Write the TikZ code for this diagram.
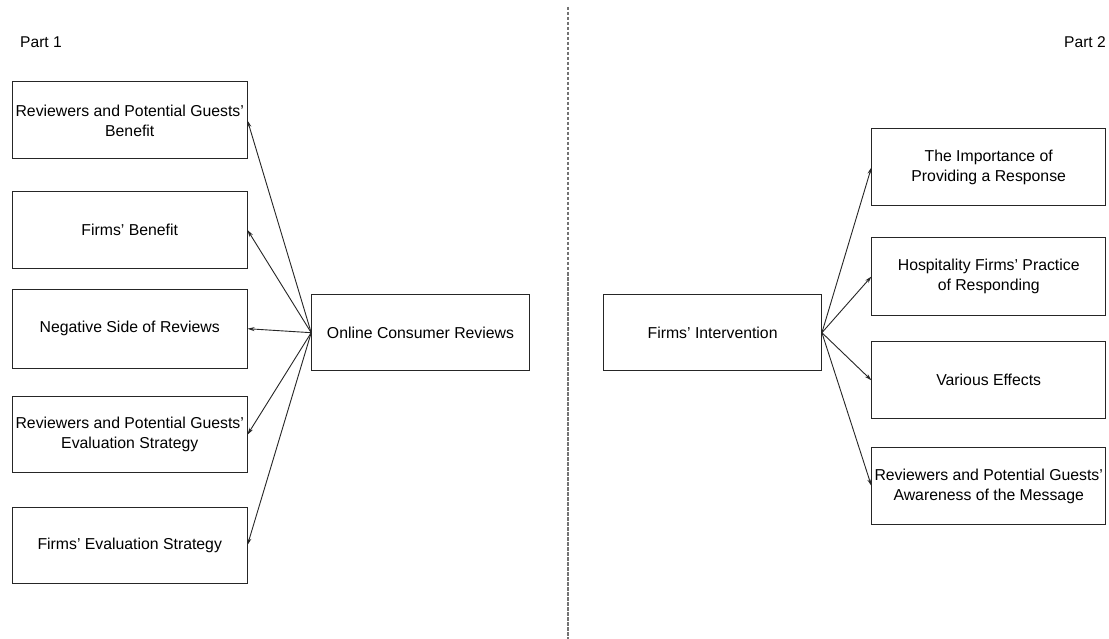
\documentclass[tikz,border=0pt]{standalone}
\usepackage{fontspec}
\setmainfont{Liberation Sans}
\usetikzlibrary{arrows.meta}
\begin{document}
\begin{tikzpicture}[x=1pt,y=-1pt,
  box/.style={draw=black!85,line width=1pt,rectangle,inner sep=0pt,align=center,
    font=\fontsize{15.8}{20}\selectfont,text=black},
  sidebox/.style={box,minimum width=234.5pt,minimum height=77pt},
  hubbox/.style={box,minimum width=217.6pt,minimum height=75.5pt},
  link/.style={draw=black!85,line width=0.9pt,-{Stealth[length=7pt,width=4pt]}},
  label/.style={font=\fontsize{15.6}{20}\selectfont,inner sep=0pt}]
\useasboundingbox (0,0) rectangle (1109,639);
\fill[white] (0,0) rectangle (1109,639);
% divider
\coordinate (dtop) at (568,7);
\coordinate (dbot) at (568,639);
\draw[black!55,line width=1.2pt,dash pattern=on 3.5pt off 1.5pt] (dtop) -- (dbot);
% part labels
\node[label,anchor=west] (p1) at (20,42) {Part 1};
\node[label,anchor=east] (p2) at (1106,42) {Part 2};
% left side
\node[sidebox] (l1) at (129.75,120.5) {Reviewers and Potential Guests’\\Benefit};
\node[sidebox] (l2) at (129.75,230) {Firms’ Benefit};
\node[sidebox,minimum height=79pt] (l3) at (129.75,328.7) {Negative Side of Reviews};
\node[sidebox,minimum height=76pt] (l4) at (129.75,434.7) {Reviewers and Potential Guests’\\Evaluation Strategy};
\node[sidebox,minimum height=76pt] (l5) at (129.75,545) {Firms’ Evaluation Strategy};
\node[hubbox] (ocr) at (420.5,332.7) {Online Consumer Reviews};
% right side
\node[hubbox] (fi) at (712.6,332.7) {Firms’ Intervention};
\node[sidebox,minimum width=233.5pt] (r1) at (988.7,167.3) {The Importance of\\Providing a Response};
\node[sidebox,minimum width=233.5pt] (r2) at (988.7,276.5) {Hospitality Firms’ Practice\\of Responding};
\node[sidebox,minimum width=233.5pt] (r3) at (988.7,380.3) {Various Effects};
\node[sidebox,minimum width=233.5pt] (r4) at (988.7,486) {Reviewers and Potential Guests’\\Awareness of the Message};
% connectors
\foreach \t in {l1,l2,l3,l4,l5}{\draw[link] (ocr.west) -- (\t.east);}
\foreach \t in {r1,r2,r3,r4}{\draw[link] (fi.east) -- (\t.west);}
\end{tikzpicture}
\end{document}
